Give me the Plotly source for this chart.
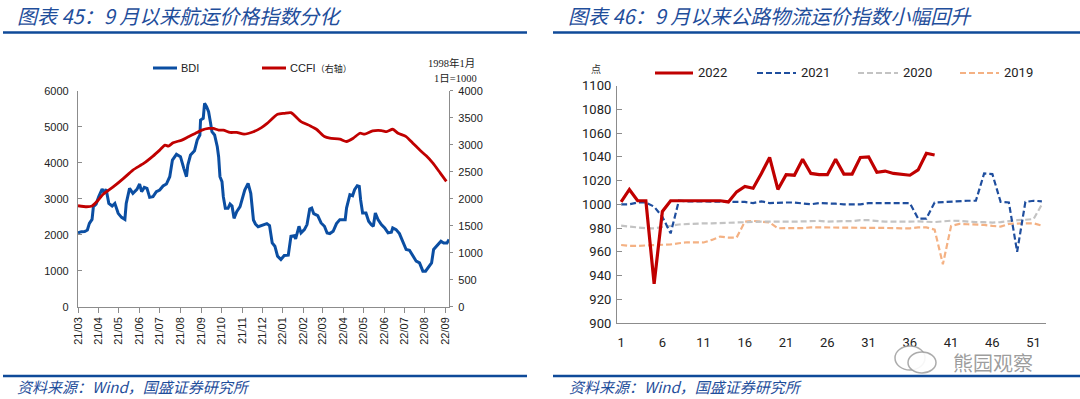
import plotly.graph_objects as go

W, H = 1080, 399
def X(px): return px / W
def Y(py): return 1 - py / H

# ---------------- Left chart data ----------------
bdi_dates = ["2021-03-01","2021-03-06","2021-03-11","2021-03-15","2021-03-18","2021-03-22","2021-03-24","2021-03-28",
             "2021-04-01","2021-04-06","2021-04-09","2021-04-12","2021-04-16","2021-04-21","2021-04-25","2021-04-30",
             "2021-05-05","2021-05-10","2021-05-12","2021-05-17","2021-05-22","2021-05-28","2021-06-01","2021-06-04",
             "2021-06-08","2021-06-12","2021-06-16","2021-06-21","2021-06-26","2021-07-01","2021-07-06","2021-07-11",
             "2021-07-16","2021-07-20","2021-07-26","2021-08-01","2021-08-06","2021-08-10","2021-08-12","2021-08-16",
             "2021-08-22","2021-08-26","2021-08-30","2021-08-31","2021-09-04","2021-09-06","2021-09-09","2021-09-12",
             "2021-09-15","2021-09-17","2021-09-21","2021-09-25","2021-09-27","2021-09-29","2021-10-02","2021-10-04",
             "2021-10-07","2021-10-11","2021-10-14","2021-10-17","2021-10-20","2021-10-24","2021-10-29","2021-11-01",
             "2021-11-05","2021-11-10","2021-11-14","2021-11-18","2021-11-21","2021-11-25","2021-12-01","2021-12-08",
             "2021-12-12","2021-12-16","2021-12-20","2021-12-24","2021-12-29","2022-01-03","2022-01-09","2022-01-13",
             "2022-01-18","2022-01-20","2022-01-25","2022-01-28","2022-02-02","2022-02-06","2022-02-10","2022-02-13",
             "2022-02-16","2022-02-22","2022-02-27","2022-03-04","2022-03-08","2022-03-12","2022-03-17","2022-03-22",
             "2022-03-27","2022-04-04","2022-04-06","2022-04-11","2022-04-15","2022-04-18","2022-04-22","2022-04-25",
             "2022-04-27","2022-04-30","2022-05-05","2022-05-09","2022-05-13","2022-05-16","2022-05-19","2022-05-23",
             "2022-05-28","2022-06-02","2022-06-07","2022-06-12","2022-06-14","2022-06-19","2022-06-24","2022-06-29",
             "2022-07-04","2022-07-09","2022-07-14","2022-07-19","2022-07-24","2022-07-29","2022-08-02","2022-08-06",
             "2022-08-11","2022-08-14","2022-08-18","2022-08-25","2022-08-29","2022-09-03","2022-09-06"]
bdi_values = [2050,2083,2090,2130,2315,2426,2778,2850,
              3056,3269,3167,3260,2870,2797,2870,2593,
              2482,2426,2870,3287,3148,3260,3408,3195,
              3315,3287,3037,3056,3195,3241,3352,3408,
              3611,4074,4232,4167,3843,3611,3935,4213,
              4334,4630,4769,5185,5232,5649,5556,5417,
              5093,4862,4769,4445,4167,3611,3473,3056,
              2732,2732,2852,2797,2454,2639,2778,2963,
              3241,3426,3148,2408,2296,2222,2261,2308,
              2252,1772,1680,1403,1311,1421,1431,1957,
              1975,1883,2234,2049,2141,2280,2714,2741,
              2584,2529,2326,2234,2049,2031,2095,2308,
              2418,2418,2741,3111,3083,3249,3360,3341,
              2972,2603,2603,2372,2280,2234,2603,2418,
              2280,2188,2049,2067,2188,2141,2031,1818,
              1588,1569,1403,1265,1218,988,988,1080,
              1218,1588,1680,1818,1772,1772,1864]

ccfi_dates = ["2021-03-01","2021-03-14","2021-03-22","2021-03-29","2021-04-08","2021-04-23","2021-05-08","2021-05-22",
              "2021-06-07","2021-06-21","2021-07-01","2021-07-09","2021-07-14","2021-07-21","2021-08-03","2021-08-13",
              "2021-08-23","2021-09-02","2021-09-12","2021-09-19","2021-09-27","2021-10-04","2021-10-14","2021-10-24",
              "2021-11-04","2021-11-18","2021-11-30","2021-12-08","2021-12-24","2022-01-03","2022-01-13","2022-01-28",
              "2022-02-11","2022-02-20","2022-03-04","2022-03-12","2022-03-27","2022-04-06","2022-04-16","2022-04-26",
              "2022-05-03","2022-05-15","2022-05-28","2022-06-05","2022-06-14","2022-06-22","2022-07-04","2022-07-14",
              "2022-07-24","2022-08-03","2022-08-13","2022-08-24","2022-09-02"]
ccfi_values = [1870,1851,1864,1944,2086,2222,2376,2530,
               2653,2789,2900,2993,2974,3036,3085,3147,
               3208,3270,3301,3301,3270,3270,3227,3227,
               3196,3240,3317,3390,3563,3582,3594,3428,
               3348,3286,3151,3120,3102,3059,3120,3212,
               3194,3255,3262,3243,3286,3212,3151,3028,
               2905,2794,2659,2474,2320]

month_ticks = ["2021-03-01","2021-04-01","2021-05-01","2021-06-01","2021-07-01","2021-08-01","2021-09-01",
               "2021-10-01","2021-11-01","2021-12-01","2022-01-01","2022-02-01","2022-03-01","2022-04-01",
               "2022-05-01","2022-06-01","2022-07-01","2022-08-01","2022-09-01"]
month_labels = ["21/03","21/04","21/05","21/06","21/07","21/08","21/09","21/10","21/11","21/12",
                "22/01","22/02","22/03","22/04","22/05","22/06","22/07","22/08","22/09"]

# ---------------- Right chart data ----------------
weeks_2022 = list(range(1, 40))
weeks_full = list(range(1, 53))
v2022 = [1002,1012.5,1003,1003,933,994,1003,1003,1003,1003,1003,1003,1003,1002,1010.5,1015,1013.5,1026,1039.5,
         1012.5,1025,1024.5,1038,1026,1025,1025,1038,1025.5,1025.5,1039.5,1040,1027,1028,1026,1025,1024.5,1029,
         1043,1041.5]
v2021 = [1000,1000,1001.5,1001.5,998,989.5,975.5,1003,1002.5,1002.5,1002,1002,1002,1002,1002.5,1002,1001,1002.5,
         1001,1001.5,1001.5,1001.5,1001,1000,1001,1001,1000.5,1000,1000,1000,1001,1001,1001,1000.5,1001,1001,988,
         988,1001.5,1002,1002.5,1003,1003,1003,1026,1025.5,1002,1001.5,960,1002,1003,1002.5]
v2020 = [982,981.2,980.4,979.8,979.8,980.6,981.8,983,983.4,984,984,984,984.3,984.6,985,985,985.4,985.4,985.4,
         985.2,985.4,985.4,985.6,986,986,985.4,985.8,985.8,985.8,986.6,986.6,985.8,985.4,985.4,985.2,985.4,985.6,
         985.4,985,985.6,986.2,986,985.4,985,984.9,984.6,985,986,986.6,987,987.6,1000]
v2019 = [965.7,965,965,965.2,965.4,965.7,966.2,967.2,968,968,967.8,970,972.8,972,972,985.4,986,985.4,984.6,
         979.8,979.8,979.8,980,980.6,980.6,980.6,980.6,980.6,980.6,980.6,980.2,980.6,980.2,980,979.8,979.8,980.6,
         980.6,978.6,949.5,981.8,983.5,983.2,983.2,982.6,981.8,981.2,983.5,984,984,984,982]
week_ticks = [1, 6, 11, 16, 21, 26, 31, 36, 41, 46, 51]

BLUE_T = "#1F4E9B"
RULE = "#0F4A99"
AX = "#8c8c8c"
C_BDI = "#0B4EA2"
C_RED = "#C00000"

fig = go.Figure()
fig.add_trace(go.Scatter(x=bdi_dates, y=bdi_values, mode="lines", line=dict(color=C_BDI, width=3),
                         xaxis="x", yaxis="y", showlegend=False))
fig.add_trace(go.Scatter(x=ccfi_dates, y=ccfi_values, mode="lines", line=dict(color=C_RED, width=2.8, shape="spline", smoothing=0.6),
                         xaxis="x", yaxis="y2", showlegend=False))

fig.add_trace(go.Scatter(x=weeks_full, y=v2019, mode="lines", line=dict(color="#F4B183", width=2.2, dash="6px,3px"),
                         xaxis="x3", yaxis="y3", showlegend=False))
fig.add_trace(go.Scatter(x=weeks_full, y=v2020, mode="lines", line=dict(color="#C3C3C3", width=2.2, dash="6px,3px"),
                         xaxis="x3", yaxis="y3", showlegend=False))
fig.add_trace(go.Scatter(x=weeks_full, y=v2021, mode="lines", line=dict(color="#1F4E9E", width=2.2, dash="6px,3px"),
                         xaxis="x3", yaxis="y3", showlegend=False))
fig.add_trace(go.Scatter(x=weeks_2022, y=v2022, mode="lines", line=dict(color=C_RED, width=3.2),
                         xaxis="x3", yaxis="y3", showlegend=False))

tickfont_l = dict(family="Liberation Sans, Arial", size=11, color="#222")
tickfont_r = dict(family="Roboto, Liberation Sans", size=13, color="#222")

fig.update_layout(
    width=W, height=H, margin=dict(l=0, r=0, t=0, b=0, autoexpand=False),
    paper_bgcolor="white", plot_bgcolor="white",
    xaxis=dict(domain=[X(78), X(449)], anchor="y", type="date", range=["2021-03-01", "2022-09-06"],
               tickvals=month_ticks, ticktext=month_labels, tickangle=-90, tickfont=tickfont_l,
               ticks="outside", ticklen=5, tickcolor=AX, showline=True, linecolor=AX, linewidth=1.3,
               showgrid=False, zeroline=False, automargin=False),
    yaxis=dict(domain=[Y(306.7), Y(90.7)], anchor="x", range=[0, 6000], dtick=1000, tickfont=tickfont_l,
               ticks="inside", ticklen=4, tickcolor=AX, showline=True, linecolor=AX, linewidth=1.3,
               showgrid=False, zeroline=False, ticklabelstandoff=6, automargin=False),
    yaxis2=dict(overlaying="y", side="right", anchor="x", range=[0, 4000], dtick=500, tickfont=tickfont_l,
                ticks="outside", ticklen=3, tickcolor=AX, showline=True, linecolor=AX, linewidth=1.3,
                showgrid=False, zeroline=False, ticklabelstandoff=3, automargin=False),
    xaxis3=dict(domain=[X(617), X(1046)], anchor="y3", range=[0.5, 52.5], tickvals=week_ticks, tickfont=tickfont_r,
                ticks="", showline=True, linecolor=AX, linewidth=1.3, showgrid=False, zeroline=False,
                ticklabelstandoff=7, automargin=False),
    yaxis3=dict(domain=[Y(323), Y(85.6)], anchor="x3", range=[900, 1100], dtick=20, tickfont=tickfont_r,
                ticks="inside", ticklen=5, tickcolor=AX, showline=True, linecolor=AX, linewidth=1.3,
                showgrid=False, zeroline=False, ticklabelstandoff=2, automargin=False),
)

shapes = []
ann = []
# rules
for (x0, x1) in [(3, 527), (553, 1080)]:
    shapes.append(dict(type="line", xref="paper", yref="paper", x0=X(x0), x1=X(x1), y0=Y(32.5), y1=Y(32.5),
                       line=dict(color=RULE, width=2.5)))
    shapes.append(dict(type="line", xref="paper", yref="paper", x0=X(x0), x1=X(x1), y0=Y(376), y1=Y(376),
                       line=dict(color=RULE, width=2.5)))

title_font = dict(family="Noto Sans CJK SC", size=20, color=BLUE_T)
ann.append(dict(text="<i>图表 45：9 月以来航运价格指数分化</i>", x=X(15), y=Y(15), xref="paper", yref="paper",
                xanchor="left", yanchor="middle", showarrow=False, font=title_font))
ann.append(dict(text="<i>图表 46：9 月以来公路物流运价指数小幅回升</i>", x=X(566), y=Y(15), xref="paper", yref="paper",
                xanchor="left", yanchor="middle", showarrow=False, font=title_font))
src_font = dict(family="Noto Sans CJK SC", size=15, color=BLUE_T)
ann.append(dict(text="<i>资料来源：Wind，国盛证券研究所</i>", x=X(15), y=Y(386), xref="paper", yref="paper",
                xanchor="left", yanchor="middle", showarrow=False, font=src_font))
ann.append(dict(text="<i>资料来源：Wind，国盛证券研究所</i>", x=X(567), y=Y(386), xref="paper", yref="paper",
                xanchor="left", yanchor="middle", showarrow=False, font=src_font))

# left legend
leg_font = dict(family="Liberation Sans, Noto Sans CJK SC", size=11, color="#222")
shapes.append(dict(type="line", xref="paper", yref="paper", x0=X(153), x1=X(177), y0=Y(68), y1=Y(68),
                   line=dict(color=C_BDI, width=3)))
ann.append(dict(text="BDI", x=X(179), y=Y(68), xref="paper", yref="paper", xanchor="left", yanchor="middle",
                showarrow=False, font=leg_font))
shapes.append(dict(type="line", xref="paper", yref="paper", x0=X(262), x1=X(286), y0=Y(68), y1=Y(68),
                   line=dict(color=C_RED, width=3)))
ann.append(dict(text="CCFI<span style='font-size:9px'>（右轴）</span>", x=X(288), y=Y(68), xref="paper", yref="paper",
                xanchor="left", yanchor="middle", showarrow=False, font=leg_font))
note_font = dict(family="Liberation Serif, Noto Sans CJK SC", size=10.5, color="#222")
ann.append(dict(text="1998年1月", x=X(451), y=Y(63), xref="paper", yref="paper", xanchor="center", yanchor="middle",
                showarrow=False, font=note_font))
ann.append(dict(text="1日=1000", x=X(455), y=Y(78), xref="paper", yref="paper", xanchor="center", yanchor="middle",
                showarrow=False, font=note_font))

# right legend
rleg_font = dict(family="Roboto, Liberation Sans", size=13, color="#222")
ann.append(dict(text="点", x=X(596), y=Y(68), xref="paper", yref="paper", xanchor="center", yanchor="middle",
                showarrow=False, font=dict(family="Noto Sans CJK SC", size=10, color="#333")))
legend_items = [("2022", 655, 693, C_RED, 3.2, "solid"),
                ("2021", 757, 796, "#1F4E9E", 2.2, "6px,3px"),
                ("2020", 858, 898, "#C3C3C3", 2.2, "6px,3px"),
                ("2019", 960, 999, "#F4B183", 2.2, "6px,3px")]
for name, x0, x1, col, w, dash in legend_items:
    shapes.append(dict(type="line", xref="paper", yref="paper", x0=X(x0), x1=X(x1), y0=Y(73), y1=Y(73),
                       line=dict(color=col, width=w, dash=dash)))
    ann.append(dict(text=name, x=X(x1 + 3), y=Y(73), xref="paper", yref="paper", xanchor="left", yanchor="middle",
                    showarrow=False, font=rleg_font))

# watermark
shapes.append(dict(type="circle", xref="paper", yref="paper", x0=X(895), x1=X(925), y0=Y(370), y1=Y(346),
                   line=dict(color="rgba(150,150,150,0.8)", width=1.5), fillcolor="rgba(255,255,255,0.85)"))
shapes.append(dict(type="circle", xref="paper", yref="paper", x0=X(908), x1=X(936), y0=Y(373), y1=Y(352),
                   line=dict(color="rgba(150,150,150,0.8)", width=1.5), fillcolor="rgba(255,255,255,0.9)"))
ann.append(dict(text="熊园观察", x=X(993), y=Y(362.5), xref="paper", yref="paper", xanchor="center", yanchor="middle",
                showarrow=False, font=dict(family="Noto Sans CJK SC", size=20, color="rgba(140,140,140,0.85)")))

fig.update_layout(shapes=shapes, annotations=ann)
fig.write_html("out.html", config={"displayModeBar": False},
               post_script="document.body.style.margin='0';document.body.style.overflow='hidden';")
